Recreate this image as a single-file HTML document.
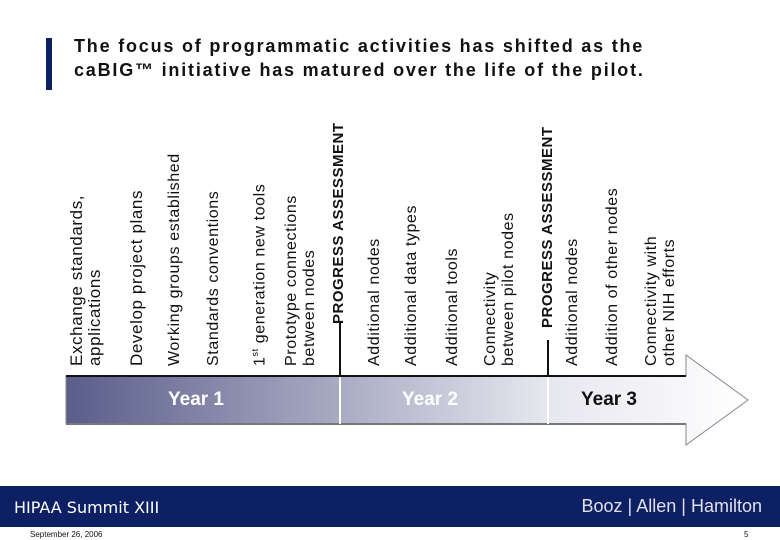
<!DOCTYPE html>
<html><head><meta charset="utf-8"><style>
body{margin:0;width:780px;height:540px;background:#fff;position:relative;overflow:hidden;font-family:"Liberation Sans",sans-serif}
.lbl{position:absolute;top:366px;transform-origin:0 0;transform:rotate(-90deg);white-space:nowrap;font-size:16px;letter-spacing:0.6px;line-height:18px;color:#111}
.pa{font-weight:bold;font-size:15px;letter-spacing:0.5px}
</style></head><body>
<div style="position:absolute;left:46px;top:38px;width:6px;height:52px;background:#0e2064"></div>
<div style="position:absolute;left:74px;top:34px;font-size:18px;font-weight:bold;letter-spacing:1.8px;line-height:24px;color:#111">The focus of programmatic activities has shifted as the<br>caBIG™ initiative has matured over the life of the pilot.</div>

<svg width="780" height="540" style="position:absolute;left:0;top:0">
<defs><linearGradient id="g" x1="66" x2="748" y1="0" y2="0" gradientUnits="userSpaceOnUse">
<stop offset="0" stop-color="#5a5d8a"/><stop offset="0.4" stop-color="#a9abc3"/><stop offset="0.7" stop-color="#e6e6ee"/><stop offset="1" stop-color="#ffffff"/></linearGradient></defs>
<polygon points="66,376 686,376 686,355 748,400 686,445 686,424 66,424" fill="url(#g)" stroke="#888" stroke-width="1"/>
<line x1="66" y1="376" x2="686" y2="376" stroke="#111" stroke-width="2"/>
<line x1="66" y1="424" x2="686" y2="424" stroke="#777" stroke-width="2"/>
<line x1="340" y1="377" x2="340" y2="424" stroke="#fff" stroke-width="2"/>
<line x1="548" y1="377" x2="548" y2="424" stroke="#fff" stroke-width="2"/>
<line x1="340" y1="322" x2="340" y2="376" stroke="#111" stroke-width="2"/>
<line x1="548" y1="340" x2="548" y2="376" stroke="#111" stroke-width="2"/>
<text x="196" y="405" text-anchor="middle" fill="#fff" font-weight="bold" font-size="19">Year 1</text>
<text x="430" y="405" text-anchor="middle" fill="#fff" font-weight="bold" font-size="19">Year 2</text>
<text x="609" y="405" text-anchor="middle" fill="#111" font-weight="bold" font-size="19">Year 3</text>
</svg>

<div class="lbl" style="left:68px;font-size:17px">Exchange standards,<br>applications</div>
<div class="lbl" style="left:128px;font-size:17px">Develop project plans</div>
<div class="lbl" style="left:166px">Working groups established</div>
<div class="lbl" style="left:205px">Standards conventions</div>
<div class="lbl" style="left:246px">1<sup style="font-size:9px">st</sup> generation new tools</div>
<div class="lbl" style="left:283px">Prototype connections<br>between nodes</div>
<div class="lbl pa" style="left:330px;top:324px">PROGRESS ASSESSMENT</div>
<div class="lbl" style="left:366px">Additional nodes</div>
<div class="lbl" style="left:403px">Additional data types</div>
<div class="lbl" style="left:444px">Additional tools</div>
<div class="lbl" style="left:482px">Connectivity<br>between pilot nodes</div>
<div class="lbl pa" style="left:539px;top:328px">PROGRESS ASSESSMENT</div>
<div class="lbl" style="left:564px">Additional nodes</div>
<div class="lbl" style="left:604px">Addition of other nodes</div>
<div class="lbl" style="left:643px">Connectivity with<br>other NIH efforts</div>

<div style="position:absolute;left:0;top:486px;width:780px;height:41px;background:#0e2064"></div>
<div style="position:absolute;left:14px;top:498px;color:#fff;font-family:'DejaVu Sans',sans-serif;font-size:16px">HIPAA Summit XIII</div>
<div style="position:absolute;right:18px;top:496px;color:#dfe0ea;font-size:18px">Booz <span>|</span> Allen <span>|</span> Hamilton</div>
<div style="position:absolute;left:30px;top:530px;font-size:8px;color:#111">September 26, 2006</div>
<div style="position:absolute;left:744px;top:530px;font-size:8px;color:#111">5</div>
</body></html>
